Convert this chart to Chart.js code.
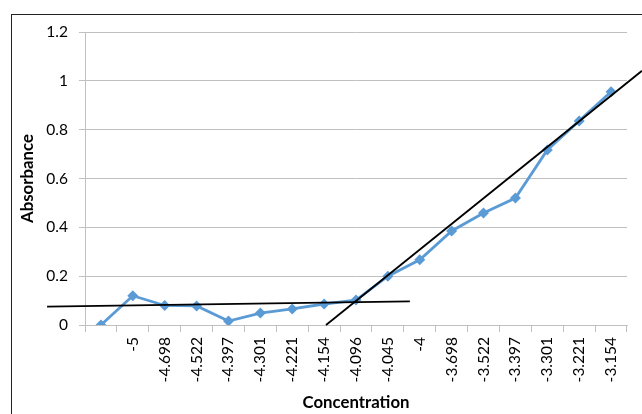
<!DOCTYPE html>
<html>
<head>
<meta charset="utf-8">
<script src="https://cdn.jsdelivr.net/npm/chart.js@4/dist/chart.umd.min.js"></script>
<style>
  html, body { margin: 0; padding: 0; background: #fff; overflow: hidden; }
  #wrap { position: relative; width: 642px; height: 414px; }
  #frame { position: absolute; left: 11px; top: 14px; width: 700px; height: 500px;
           border-top: 1.5px solid #222; border-left: 1.5px solid #222; }
  canvas { position: absolute; left: 0; top: 0; }
</style>
</head>
<body>
<div id="wrap">
  <div id="frame"></div>
  <canvas id="c" width="642" height="414"></canvas>
</div>
<script>
// Log concentration categories (first slot is the blank)
const concentrations = ["", "-5", "-4.698", "-4.522", "-4.397", "-4.301", "-4.221", "-4.154",
  "-4.096", "-4.045", "-4", "-3.698", "-3.522", "-3.397", "-3.301", "-3.221", "-3.154"];

// Measured absorbance for each concentration
const absorbance = [0, 0.12, 0.08, 0.078, 0.016, 0.049, 0.066, 0.086,
  0.102, 0.2, 0.267, 0.385, 0.459, 0.52, 0.717, 0.836, 0.955];

// Hand-drawn fit lines, endpoints in (category position, absorbance)
const baselineFit = [{ x: -1.69, y: 0.075 }, { x: 9.69, y: 0.097 }];
const slopeFit = [{ x: 7.06, y: 0 }, { x: 16.97, y: 1.041 }];

const FONT = "Lato, 'Open Sans', sans-serif";
const GRID = "#c0c0c0";

new Chart(document.getElementById("c"), {
  type: "line",
  data: {
    labels: concentrations,
    datasets: [
      {
        data: baselineFit, xAxisID: "xFit", borderColor: "#000", borderWidth: 1.8,
        pointRadius: 0, clip: false, fill: false, tension: 0
      },
      {
        data: slopeFit, xAxisID: "xFit", borderColor: "#000", borderWidth: 1.8,
        pointRadius: 0, clip: false, fill: false, tension: 0
      },
      {
        data: absorbance, xAxisID: "x", borderColor: "#5b9bd5", backgroundColor: "#5b9bd5",
        borderWidth: 2.8, pointStyle: "rectRot", pointRadius: 5.5, pointBorderWidth: 0,
        fill: false, tension: 0
      }
    ]
  },
  options: {
    responsive: false,
    animation: false,
    events: [],
    layout: { padding: { left: 14, right: 15, top: 32, bottom: 0 } },
    plugins: { legend: { display: false }, tooltip: { enabled: false } },
    scales: {
      x: {
        type: "category",
        offset: true,
        grid: { drawOnChartArea: false, drawTicks: true, tickLength: 7, color: GRID, offset: true },
        border: { color: GRID },
        ticks: {
          autoSkip: false, minRotation: 90, maxRotation: 90, padding: 5,
          color: "#000", font: { family: FONT, size: 15.5 }
        },
        title: {
          display: true, text: "Concentration", color: "#000",
          font: { family: FONT, size: 16.8, weight: "bold" }, padding: { top: 0, bottom: 1 }
        },
        afterFit: (s) => { s.height = 89; }
      },
      xFit: {
        type: "linear", display: false, min: -0.5, max: 16.5
      },
      y: {
        min: 0, max: 1.2,
        ticks: {
          stepSize: 0.2, padding: 11, color: "#000", font: { family: FONT, size: 15.5 },
          callback: (v) => String(Math.round(v * 10) / 10)
        },
        grid: { color: GRID, tickLength: 6 },
        border: { color: GRID },
        title: {
          display: true, text: "Absorbance", color: "#000",
          font: { family: FONT, size: 16.8, weight: "bold" }, padding: { top: 4, bottom: 0 }
        },
        afterFit: (s) => { s.width = 71; }
      }
    }
  }
});
</script>
</body>
</html>
